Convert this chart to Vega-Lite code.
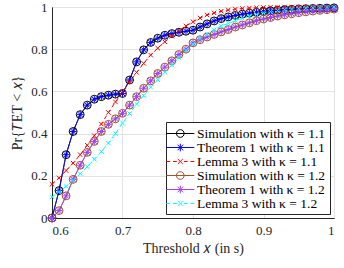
{
  "$schema": "https://vega.github.io/schema/vega-lite/v6.json",
  "width": 282,
  "height": 211,
  "autosize": {"type": "none"},
  "padding": {"left": 52, "top": 7, "right": 10, "bottom": 50},
  "background": "white",
  "config": {
    "font": "Liberation Serif",
    "view": {"stroke": "#262626", "strokeWidth": 1},
    "axis": {
      "labelFont": "Liberation Serif", "labelFontSize": 13, "labelColor": "#262626",
      "titleFont": "Liberation Serif", "titleFontSize": 14, "titleFontWeight": "normal", "titleColor": "#262626",
      "domainColor": "#262626", "gridColor": "#E3E3E3", "ticks": false
    },
    "legend": {
      "orient": "bottom-right", "offset": 4, "title": null, "padding": 4,
      "strokeColor": "#262626", "fillColor": "white", "cornerRadius": 0,
      "labelFont": "Liberation Serif", "labelFontSize": 13.5, "labelColor": "black",
      "symbolSize": 196, "labelOffset": 12, "rowPadding": 0, "symbolStrokeWidth": 1,
      "symbolFillColor": "transparent"
    }
  },
  "resolve": {"legend": {"color": "independent", "shape": "independent"}},
  "data": {"values": [
    {"x":0.60,"S11":0,"T11":0,"L11":0.16,"S12":0,"T12":0,"L12":0.10},
    {"x":0.61,"S11":0.13,"T11":0.13,"L11":0.19,"S12":0.035,"T12":0.035,"L12":0.125},
    {"x":0.62,"S11":0.30,"T11":0.30,"L11":0.225,"S12":0.105,"T12":0.105,"L12":0.15},
    {"x":0.63,"S11":0.41,"T11":0.41,"L11":0.26,"S12":0.183,"T12":0.183,"L12":0.178},
    {"x":0.64,"S11":0.49,"T11":0.49,"L11":0.30,"S12":0.25,"T12":0.25,"L12":0.21},
    {"x":0.65,"S11":0.535,"T11":0.535,"L11":0.345,"S12":0.311,"T12":0.311,"L12":0.243},
    {"x":0.66,"S11":0.563,"T11":0.563,"L11":0.39,"S12":0.363,"T12":0.363,"L12":0.278},
    {"x":0.67,"S11":0.575,"T11":0.575,"L11":0.445,"S12":0.41,"T12":0.41,"L12":0.315},
    {"x":0.68,"S11":0.582,"T11":0.582,"L11":0.50,"S12":0.444,"T12":0.444,"L12":0.355},
    {"x":0.69,"S11":0.587,"T11":0.587,"L11":0.55,"S12":0.47,"T12":0.47,"L12":0.40},
    {"x":0.70,"S11":0.59,"T11":0.59,"L11":0.598,"S12":0.496,"T12":0.496,"L12":0.45},
    {"x":0.71,"S11":0.654,"T11":0.654,"L11":0.645,"S12":0.535,"T12":0.535,"L12":0.495},
    {"x":0.72,"S11":0.74,"T11":0.74,"L11":0.69,"S12":0.575,"T12":0.575,"L12":0.54},
    {"x":0.73,"S11":0.797,"T11":0.797,"L11":0.733,"S12":0.615,"T12":0.615,"L12":0.58},
    {"x":0.74,"S11":0.832,"T11":0.832,"L11":0.772,"S12":0.65,"T12":0.65,"L12":0.62},
    {"x":0.75,"S11":0.852,"T11":0.852,"L11":0.805,"S12":0.685,"T12":0.685,"L12":0.655},
    {"x":0.76,"S11":0.866,"T11":0.866,"L11":0.835,"S12":0.715,"T12":0.715,"L12":0.69},
    {"x":0.77,"S11":0.874,"T11":0.874,"L11":0.862,"S12":0.745,"T12":0.745,"L12":0.725},
    {"x":0.78,"S11":0.88,"T11":0.88,"L11":0.888,"S12":0.775,"T12":0.775,"L12":0.76},
    {"x":0.79,"S11":0.885,"T11":0.885,"L11":0.91,"S12":0.80,"T12":0.80,"L12":0.795},
    {"x":0.80,"S11":0.89,"T11":0.89,"L11":0.93,"S12":0.83,"T12":0.83,"L12":0.825},
    {"x":0.81,"S11":0.905,"T11":0.905,"L11":0.948,"S12":0.845,"T12":0.845,"L12":0.85},
    {"x":0.82,"S11":0.92,"T11":0.92,"L11":0.962,"S12":0.858,"T12":0.858,"L12":0.872},
    {"x":0.83,"S11":0.934,"T11":0.934,"L11":0.972,"S12":0.87,"T12":0.87,"L12":0.892},
    {"x":0.84,"S11":0.945,"T11":0.945,"L11":0.98,"S12":0.882,"T12":0.882,"L12":0.91},
    {"x":0.85,"S11":0.953,"T11":0.953,"L11":0.986,"S12":0.893,"T12":0.893,"L12":0.922},
    {"x":0.86,"S11":0.96,"T11":0.96,"L11":0.99,"S12":0.905,"T12":0.905,"L12":0.935},
    {"x":0.87,"S11":0.966,"T11":0.966,"L11":0.993,"S12":0.915,"T12":0.915,"L12":0.947},
    {"x":0.88,"S11":0.971,"T11":0.971,"L11":0.995,"S12":0.925,"T12":0.925,"L12":0.957},
    {"x":0.89,"S11":0.975,"T11":0.975,"L11":0.997,"S12":0.935,"T12":0.935,"L12":0.965},
    {"x":0.90,"S11":0.979,"T11":0.979,"L11":0.998,"S12":0.943,"T12":0.943,"L12":0.972},
    {"x":0.91,"S11":0.982,"T11":0.982,"L11":0.999,"S12":0.95,"T12":0.95,"L12":0.978},
    {"x":0.92,"S11":0.985,"T11":0.985,"L11":0.999,"S12":0.957,"T12":0.957,"L12":0.983},
    {"x":0.93,"S11":0.987,"T11":0.987,"L11":1.0,"S12":0.963,"T12":0.963,"L12":0.987},
    {"x":0.94,"S11":0.989,"T11":0.989,"L11":1.0,"S12":0.968,"T12":0.968,"L12":0.99},
    {"x":0.95,"S11":0.991,"T11":0.991,"L11":1.0,"S12":0.973,"T12":0.973,"L12":0.992},
    {"x":0.96,"S11":0.992,"T11":0.992,"L11":1.0,"S12":0.977,"T12":0.977,"L12":0.994},
    {"x":0.97,"S11":0.993,"T11":0.993,"L11":1.0,"S12":0.981,"T12":0.981,"L12":0.996},
    {"x":0.98,"S11":0.994,"T11":0.994,"L11":1.0,"S12":0.984,"T12":0.984,"L12":0.997},
    {"x":0.99,"S11":0.995,"T11":0.995,"L11":1.0,"S12":0.987,"T12":0.987,"L12":0.998},
    {"x":1.00,"S11":0.996,"T11":0.996,"L11":1.0,"S12":0.99,"T12":0.99,"L12":0.999}
  ]},
  "transform": [{"fold": ["S11","T11","L11","S12","T12","L12"], "as": ["s","y"]}],
  "encoding": {
    "x": {"field": "x", "type": "quantitative",
      "scale": {"domain": [0.6, 1], "nice": false, "zero": false},
      "axis": {"values": [0.6, 0.7, 0.8, 0.9, 1], "format": "~g", "title": "Threshold 𝑥 (in s)", "labelPadding": 6, "titlePadding": 4}},
    "y": {"field": "y", "type": "quantitative",
      "scale": {"domain": [0, 1], "nice": false},
      "axis": {"values": [0, 0.2, 0.4, 0.6, 0.8, 1], "format": "~g", "title": "Pr{𝑇ET < 𝑥}", "labelPadding": 5, "titlePadding": 6}}
  },
  "layer": [
    {"mark": {"type": "line", "strokeWidth": 1},
     "encoding": {
       "color": {"field": "s", "type": "nominal",
         "scale": {"domain": ["S11","T11","L11","S12","T12","L12"], "range": ["#000000","#0000FF","#FF0000","#A0522D","#A040F0","#00FFFF"]}, "legend": null},
       "strokeDash": {"field": "s", "type": "nominal",
         "scale": {"domain": ["S11","T11","L11","S12","T12","L12"], "range": [[1,0],[1,0],[4,3],[1,0],[1,0],[4,3]]}, "legend": null}}},
    {"transform": [{"filter": {"field": "s", "oneOf": ["S11","S12"]}}],
     "mark": {"type": "point", "shape": "circle", "size": 62, "filled": false, "strokeWidth": 1, "opacity": 1},
     "encoding": {"color": {"field": "s", "type": "nominal", "legend": null}}},
    {"transform": [{"filter": {"field": "s", "oneOf": ["T11","T12"]}}],
     "mark": {"type": "point", "shape": "M-1,0L1,0M0,-1L0,1M-0.7,-0.7L0.7,0.7M-0.7,0.7L0.7,-0.7", "size": 50, "filled": false, "strokeWidth": 1, "opacity": 1},
     "encoding": {"color": {"field": "s", "type": "nominal", "legend": null}}},
    {"transform": [{"filter": {"field": "s", "oneOf": ["L11","L12"]}}],
     "mark": {"type": "point", "shape": "M-1,-1L1,1M-1,1L1,-1", "size": 20, "filled": false, "strokeWidth": 1, "opacity": 1},
     "encoding": {"color": {"field": "s", "type": "nominal", "legend": null}}},
    {"transform": [{"filter": {"field": "x", "gt": 5}}],
     "mark": {"type": "point", "size": 196, "filled": false, "strokeWidth": 1, "opacity": 1},
     "encoding": {
       "color": {"field": "s", "type": "nominal",
         "legend": {"labelExpr": "['Simulation with κ = 1.1','Theorem 1 with κ = 1.1','Lemma 3 with κ = 1.1','Simulation with κ = 1.2','Theorem 1 with κ = 1.2','Lemma 3 with κ = 1.2'][indexof(['S11','T11','L11','S12','T12','L12'], datum.value)]"}},
       "shape": {"field": "s", "type": "nominal",
         "scale": {"domain": ["S11","T11","L11","S12","T12","L12"], "range": [
           "M-1.6,0L2.4,0M-0.15,0A0.55,0.55,0,1,0,0.95,0A0.55,0.55,0,1,0,-0.15,0",
           "M-1.6,0L2.4,0M-0.15,0L0.95,0M0.4,-0.55L0.4,0.55M0,-0.4L0.8,0.4M0,0.4L0.8,-0.4",
           "M-1.6,0L-1.05,0M-0.65,0L-0.1,0M0.9,0L1.45,0M1.85,0L2.4,0M0.05,-0.35L0.75,0.35M0.05,0.35L0.75,-0.35",
           "M-1.6,0L2.4,0M-0.15,0A0.55,0.55,0,1,0,0.95,0A0.55,0.55,0,1,0,-0.15,0",
           "M-1.6,0L2.4,0M-0.15,0L0.95,0M0.4,-0.55L0.4,0.55M0,-0.4L0.8,0.4M0,0.4L0.8,-0.4",
           "M-1.6,0L-1.05,0M-0.65,0L-0.1,0M0.9,0L1.45,0M1.85,0L2.4,0M0.05,-0.35L0.75,0.35M0.05,0.35L0.75,-0.35"]},
         "legend": {"labelExpr": "['Simulation with κ = 1.1','Theorem 1 with κ = 1.1','Lemma 3 with κ = 1.1','Simulation with κ = 1.2','Theorem 1 with κ = 1.2','Lemma 3 with κ = 1.2'][indexof(['S11','T11','L11','S12','T12','L12'], datum.value)]"}}
     }}
  ]
}
